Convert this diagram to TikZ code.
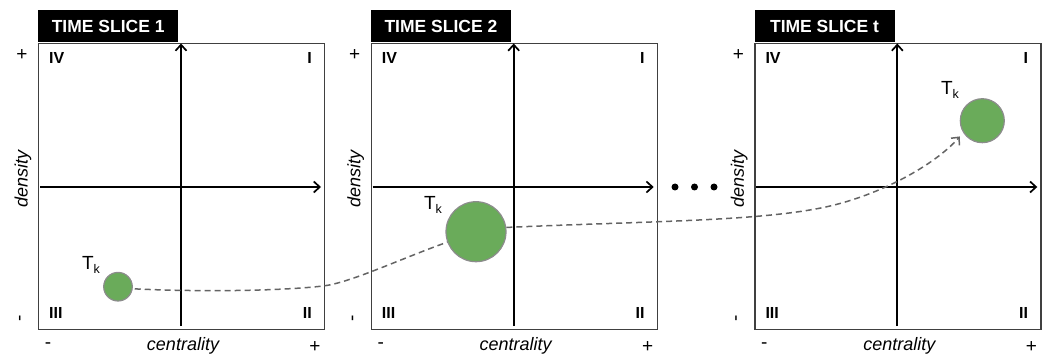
\documentclass[tikz,border=0pt]{standalone}
\usepackage{fontspec}
\setmainfont{Liberation Sans}
\usetikzlibrary{arrows.meta}
\definecolor{blobgreen}{RGB}{106,171,90}
\definecolor{blobedge}{RGB}{140,140,140}
\definecolor{flowgray}{RGB}{100,100,100}
\begin{document}
\begin{tikzpicture}[x=1pt,y=-1pt,
  panelbox/.style={draw=black!75, line width=1.4pt, minimum width=286pt, minimum height=286pt, inner sep=0pt, anchor=north west},
  titlebox/.style={fill=black, text=white, font=\bfseries\fontsize{17.5}{17.5}\selectfont, minimum width=140pt, minimum height=32pt, inner sep=0pt, anchor=south west},
  axisline/.style={line width=1.7pt, -{Straight Barb[length=6pt,width=11pt]}},
  quad/.style={font=\bfseries\fontsize{16}{16}\selectfont, inner sep=0pt},
  sign/.style={font=\fontsize{19}{19}\selectfont, inner sep=0pt},
  axlabel/.style={font=\itshape\fontsize{18}{18}\selectfont, inner sep=0pt},
  tklabel/.style={font=\fontsize{19}{19}\selectfont, inner sep=0pt},
  blob/.style={circle, fill=blobgreen, draw=blobedge, line width=1.2pt, inner sep=0pt},
  dotnode/.style={circle, fill=black, inner sep=0pt, minimum size=7pt},
  flow/.style={draw=flowgray, line width=1.5pt, dash pattern=on 6pt off 4pt}
]
\useasboundingbox (0,0) rectangle (1046,358);
\foreach \L/\T/\i in {38/{TIME SLICE 1}/1, 370.7/{TIME SLICE 2}/2, 754.3/{TIME SLICE t}/3}{
  \node[panelbox] (box\i) at (\L,42.7) {};
  \node[titlebox] (title\i) at (\L,42.7) {\T};
  \draw[axisline] (\L+2,187) -- (\L+283,187);
  \draw[axisline] (\L+143,326) -- (\L+143,43.5);
  \node[quad, anchor=west] (qiv\i) at (\L+11,58) {IV};
  \node[quad, anchor=east] (qi\i) at (\L+274,58) {I};
  \node[quad, anchor=west] (qiii\i) at (\L+11,313) {III};
  \node[quad, anchor=east] (qii\i) at (\L+274,313) {II};
  \node[axlabel, rotate=90] (dens\i) at (\L-15,179) {density};
  \node[sign] (dplus\i) at (\L-16,55) {+};
  \node[sign, rotate=90] (dminus\i) at (\L-16,318) {-};
  \node[axlabel] (cent\i) at (\L+145,346) {centrality};
  \node[sign] (cminus\i) at (\L+10,346) {-};
  \node[sign] (cplus\i) at (\L+277,347) {+};
}
\node[dotnode] (dot1) at (675,187) {};
\node[dotnode] (dot2) at (694.5,187) {};
\node[dotnode] (dot3) at (714,187) {};
\node[blob, minimum size=28.6pt] (c1) at (118,286.7) {};
\node[blob, minimum size=60pt] (c2) at (476,231.7) {};
\node[blob, minimum size=44pt] (c3) at (982.3,120.7) {};
\node[tklabel] (tk1) at (91,265) {T\raisebox{-4pt}{\fontsize{12.5}{12.5}\selectfont k}};
\node[tklabel] (tk2) at (433,205) {T\raisebox{-4pt}{\fontsize{12.5}{12.5}\selectfont k}};
\node[tklabel] (tk3) at (950,90) {T\raisebox{-4pt}{\fontsize{12.5}{12.5}\selectfont k}};
\draw[flow, shorten <=2pt] (c1.-8) .. controls (200,292) and (280,291) .. (323,286) .. controls (350,282.9) and (400,259) .. (c2.200);
\draw[flow, -{Straight Barb[length=6pt,width=11pt]}, shorten >=5pt] (c2.8) .. controls (650,221) and (760,221.4) .. (827,206.7) .. controls (880,195) and (935,165) .. (c3.212);
\end{tikzpicture}
\end{document}
